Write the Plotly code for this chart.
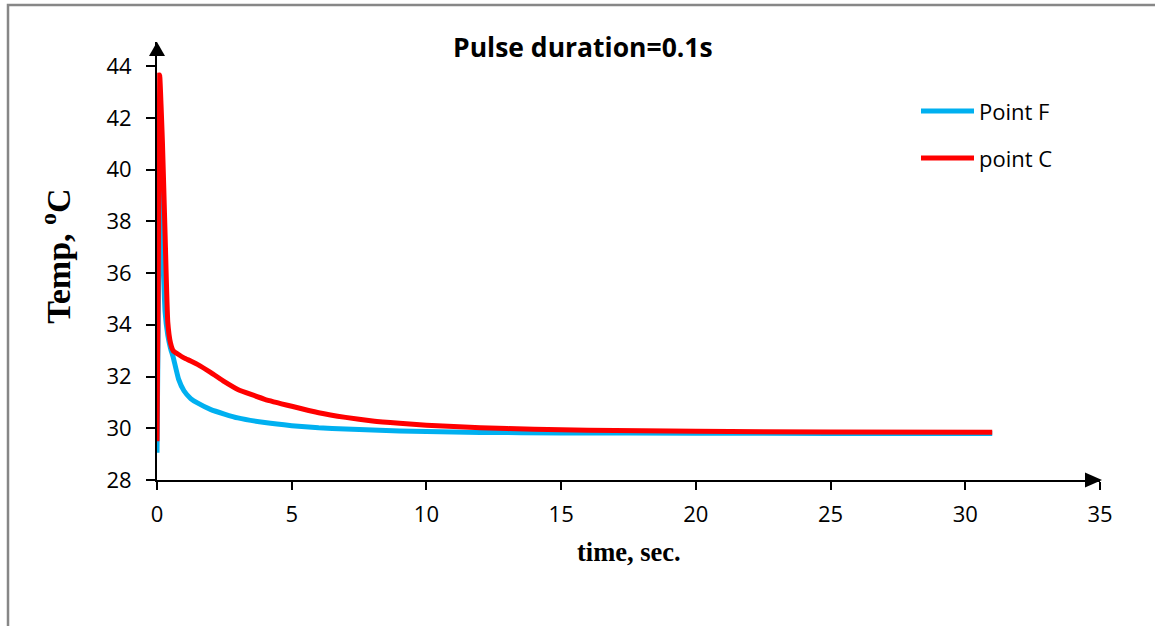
import plotly.graph_objects as go

# ---- data ----
time_F = [0, 0.1, 0.2, 0.3, 0.4, 0.5, 0.6, 0.8, 1.0, 1.25, 1.5, 2, 2.5, 3, 4, 5, 6, 7, 8, 10, 12, 15, 20, 25, 31]
temp_F = [29.05, 40.5, 37.3, 34.5, 33.6, 33.1, 32.75, 31.9, 31.45, 31.15, 30.98, 30.72, 30.55, 30.4, 30.22, 30.1, 30.02, 29.97, 29.93, 29.87, 29.84, 29.82, 29.81, 29.8, 29.8]

time_C = [0, 0.1, 0.2, 0.3, 0.4, 0.5, 0.6, 0.8, 1.0, 1.25, 1.5, 2, 2.5, 3, 4, 5, 6, 7, 8, 9, 10, 12, 14, 16, 18, 20, 25, 31]
temp_C = [29.5, 43.65, 41.1, 37.5, 34.1, 33.3, 33.0, 32.85, 32.72, 32.6, 32.47, 32.15, 31.8, 31.5, 31.12, 30.85, 30.6, 30.42, 30.28, 30.19, 30.12, 30.02, 29.96, 29.92, 29.9, 29.88, 29.86, 29.85]

series_names = ["Point F", "point C"]
series_colors = ["#00B0F0", "#FF0000"]

x_ticks = [0, 5, 10, 15, 20, 25, 30, 35]
y_ticks = [28, 30, 32, 34, 36, 38, 40, 42, 44]

title_text = "Pulse duration=0.1s"
x_title = "time, sec."
y_title = "Temp, <sup>o</sup>C"

fig = go.Figure()
for name, xs, ys, col in zip(series_names, [time_F, time_C], [temp_F, temp_C], series_colors):
    fig.add_trace(go.Scatter(x=xs, y=ys, mode="lines", name=name,
                             line=dict(color=col, width=5, shape="spline", smoothing=0.4),
                             showlegend=False))

tick_font = dict(family="Open Sans", size=22, color="#000000")

fig.update_layout(
    width=1155, height=626,
    margin=dict(l=157, r=55, t=42, b=146),
    paper_bgcolor="white", plot_bgcolor="white",
    showlegend=False,
    xaxis=dict(range=[0, 35], tickvals=x_ticks, showgrid=False, zeroline=False,
               showline=True, linecolor="black", linewidth=2,
               ticks="outside", ticklen=8, tickwidth=2, tickcolor="black",
               tickfont=tick_font, ticklabelstandoff=6),
    yaxis=dict(range=[28, 44.93], tickvals=y_ticks, showgrid=False, zeroline=False,
               showline=True, linecolor="black", linewidth=2,
               ticks="outside", ticklen=9, tickwidth=2, tickcolor="black",
               tickfont=tick_font, ticklabelstandoff=10),
)

# arrowheads on axes
fig.add_shape(type="path", xref="paper", yref="paper", xsizemode="pixel", ysizemode="pixel",
              xanchor=1, yanchor=0, path="M 2,0 L -15,7.5 L -15,-7.5 Z",
              fillcolor="black", line=dict(width=0))
fig.add_shape(type="path", xref="paper", yref="paper", xsizemode="pixel", ysizemode="pixel",
              xanchor=0, yanchor=1, path="M 0,0 L -8,-14 L 8,-14 Z",
              fillcolor="black", line=dict(width=0))

# outer frame
fig.add_shape(type="rect", xref="paper", yref="paper",
              x0=-0.158, x1=1.2, y0=-0.5, y1=1.0845,
              line=dict(color="#878787", width=2.5), fillcolor="rgba(0,0,0,0)")

# title
fig.add_annotation(text="<b>" + title_text + "</b>", xref="paper", yref="paper",
                   x=0.4517, y=0.9886, showarrow=False, xanchor="center", yanchor="middle",
                   font=dict(family="Open Sans", size=26.5, color="black"))
# axis titles
fig.add_annotation(text="<b>" + x_title + "</b>", xref="paper", yref="paper",
                   x=0.5005, y=-0.164, showarrow=False, xanchor="center", yanchor="middle",
                   font=dict(family="Liberation Serif", size=26.5, color="black"))
fig.add_annotation(text="<b>" + y_title + "</b>", xref="paper", yref="paper",
                   x=-0.108, y=0.51, showarrow=False, xanchor="center", yanchor="middle",
                   textangle=-90,
                   font=dict(family="Liberation Serif", size=34, color="black"))

# legend (manual)
leg_y = [111, 158]
for name, col, py in zip(series_names, series_colors, leg_y):
    yp = (480 - py) / 438
    fig.add_shape(type="line", xref="paper", yref="paper",
                  x0=(921 - 157) / 943, x1=(974 - 157) / 943, y0=yp, y1=yp,
                  line=dict(color=col, width=5))
    fig.add_annotation(text=name, xref="paper", yref="paper",
                       x=(977 - 157) / 943, y=yp, showarrow=False,
                       xanchor="left", yanchor="middle",
                       font=dict(family="Open Sans", size=22, color="black"))

fig.write_html("out.html", config={"displayModeBar": False},
               post_script="document.body.style.margin='0px';document.body.style.overflow='hidden';")
